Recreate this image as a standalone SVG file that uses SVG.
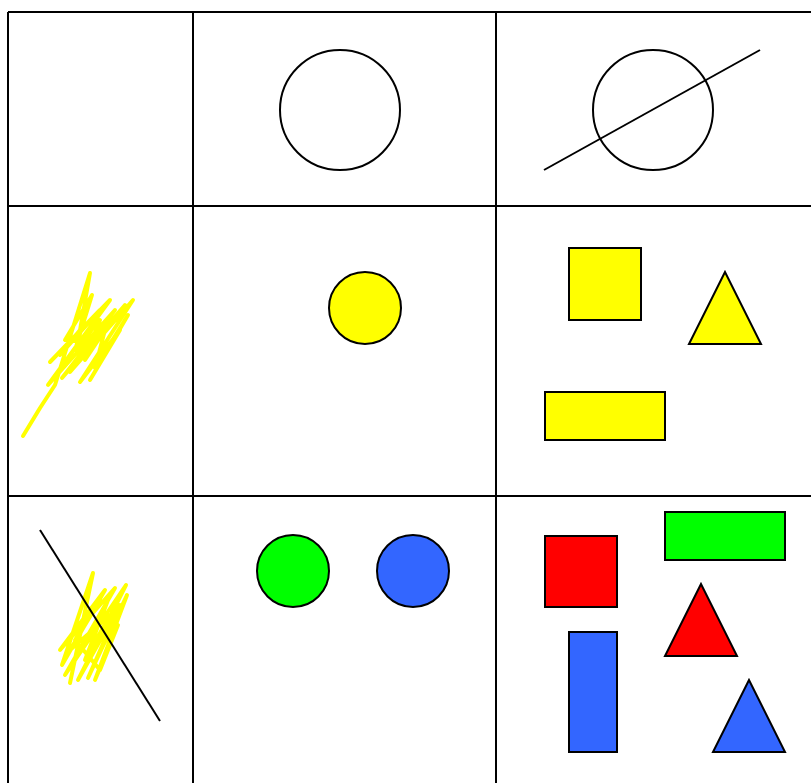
<svg xmlns="http://www.w3.org/2000/svg" width="811" height="783" viewBox="0 0 811 783">
<style>
.grid{stroke:#000;stroke-width:2;fill:none}
.s{stroke:#000;stroke-width:2}
.scr{stroke:#ffff00;stroke-width:4;fill:none;stroke-linejoin:round;stroke-linecap:round}
</style>
<rect width="811" height="783" fill="#fff"/>
<g id="grid" class="grid">
<line x1="8" y1="12" x2="811" y2="12"/>
<line x1="8" y1="206" x2="811" y2="206"/>
<line x1="8" y1="496" x2="811" y2="496"/>
<line x1="8" y1="12" x2="8" y2="783"/>
<line x1="193" y1="12" x2="193" y2="783"/>
<line x1="496" y1="12" x2="496" y2="783"/>
</g>
<g id="r1c2"><circle class="s" cx="340" cy="110" r="60" fill="none"/></g>
<g id="r1c3"><circle class="s" cx="653" cy="110" r="60" fill="none"/><line class="s" x1="544" y1="170" x2="760" y2="50"/></g>
<g id="r2c1"><path class="scr" d="M23,436 L40,408 L55,385 L90,273 L80,330 L60,355 L100,310 L50,362 L110,300 L48,385 L115,310 L62,378 L125,305 L70,372 L133,300 L80,382 L120,330 L90,380 L128,315 L95,368 L105,330 L85,360 L100,320 L75,350 L92,295 L65,340 L88,342 L118,318"/></g>
<g id="r2c2"><circle class="s" cx="365" cy="308" r="36" fill="#ffff00"/></g>
<g id="r2c3">
<rect class="s" x="569" y="248" width="72" height="72" fill="#ffff00"/>
<polygon class="s" points="725,272 689,344 761,344" fill="#ffff00"/>
<rect class="s" x="545" y="392" width="120" height="48" fill="#ffff00"/>
</g>
<g id="r3c1">
<path class="scr" d="M70,683 L93,573 L62,665 L105,590 L60,650 L115,588 L65,675 L126,585 L78,680 L120,605 L88,678 L127,595 L95,680 L118,625 L100,670 L75,640 L100,600 L70,650 L110,615 L85,660 L108,600"/>
<line class="s" x1="40" y1="530" x2="160" y2="721"/>
</g>
<g id="r3c2">
<circle class="s" cx="293" cy="571" r="36" fill="#00ff00"/>
<circle class="s" cx="413" cy="571" r="36" fill="#3366ff"/>
</g>
<g id="r3c3">
<rect class="s" x="545" y="536" width="72" height="71" fill="#ff0000"/>
<rect class="s" x="665" y="512" width="120" height="48" fill="#00ff00"/>
<polygon class="s" points="701,584 665,656 737,656" fill="#ff0000"/>
<rect class="s" x="569" y="632" width="48" height="120" fill="#3366ff"/>
<polygon class="s" points="749,680 713,752 785,752" fill="#3366ff"/>
</g>
</svg>
